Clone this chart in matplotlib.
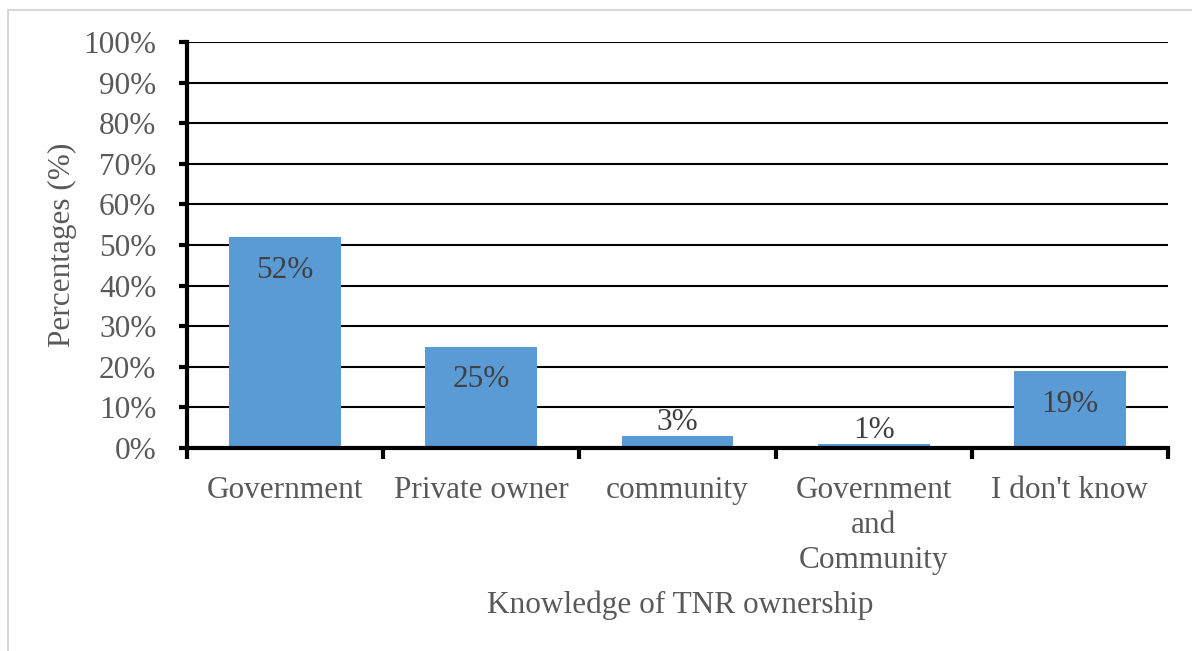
import matplotlib.pyplot as plt
from matplotlib.patches import Rectangle

categories = ["Government", "Private owner", "community",
              "Government\nand\nCommunity", "I don't know"]
shares = [52, 25, 3, 1, 19]
inside_label = [True, True, False, False, True]
y_ticks = list(range(0, 101, 10))

text_color = "#595959"
bar_color = "#5B9BD5"
fs = 22.5

plt.rcParams["font.family"] = ["Liberation Serif", "DejaVu Serif"]

fig = plt.figure(figsize=(11.92, 6.51), dpi=100)
ax = fig.add_axes([187 / 1192, 1 - 448 / 651, (1168 - 187) / 1192, (448 - 42) / 651])

# outer frame of the chart area
fig.patches.append(Rectangle((8 / 1192, -0.1), 1.2, 1 - 10 / 651 + 0.1,
                             transform=fig.transFigure, fill=False,
                             edgecolor="#d9d9d9", linewidth=1.5))

x = range(len(categories))
bars = ax.bar(x, shares, width=0.57, color=bar_color, zorder=2)

for b, v, inside in zip(bars, shares, inside_label):
    cx = b.get_x() + b.get_width() / 2
    dy = -24 if inside else 9.5
    ax.annotate(f"{v}%", (cx, v), xytext=(0, dy), textcoords="offset points",
                ha="center", va="center", fontsize=fs, color="#404040")

ax.set_xlim(-0.5, len(categories) - 0.5)
ax.set_ylim(0, 100)
ax.set_yticks(y_ticks)
ax.set_yticklabels([f"{t}%" for t in y_ticks])
ax.yaxis.grid(True, color="black", linewidth=1.5, zorder=1)
ax.set_axisbelow(True)

ax.set_xticks(list(x))
ax.set_xticklabels(categories, linespacing=1.27, va="top")
ax.set_xticks([i - 0.5 for i in range(len(categories) + 1)], minor=True)
ax.tick_params(axis="x", which="major", length=0, pad=20, labelsize=fs,
               labelcolor=text_color)
ax.tick_params(axis="x", which="minor", length=8, width=3, direction="out",
               color="black")
ax.tick_params(axis="y", length=6, width=3, labelsize=fs, labelcolor=text_color,
               pad=16)

for side in ["top", "right"]:
    ax.spines[side].set_visible(False)
for side in ["left", "bottom"]:
    ax.spines[side].set_linewidth(3)
    ax.spines[side].set_zorder(3)

fig.text(62 / 1192, 1 - 245 / 651, "Percentages (%)", rotation=90,
         ha="center", va="center", fontsize=fs, color=text_color)
fig.text(680 / 1192, 1 - 605 / 651, "Knowledge of TNR ownership",
         ha="center", va="center", fontsize=fs, color=text_color)

fig.savefig("out.png", dpi=100)
